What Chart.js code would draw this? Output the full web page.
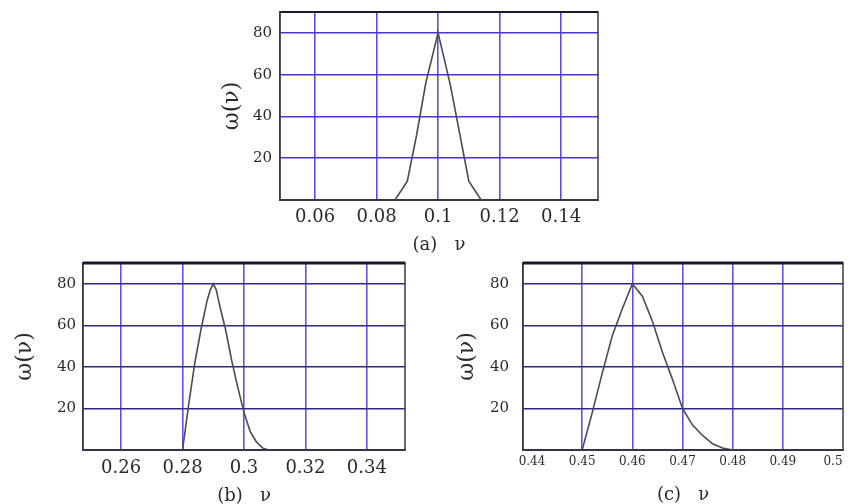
<!DOCTYPE html>
<html>
<head>
<meta charset="utf-8">
<script src="https://cdn.jsdelivr.net/npm/chart.js@4.4.0/dist/chart.umd.min.js"></script>
<style>
  body { margin: 0; background: #fff; }
  .panel { position: absolute; }
</style>
</head>
<body>
<div class="panel" style="left:220px;top:0;width:390px;height:253px"><canvas id="chartA"></canvas></div>
<div class="panel" style="left:13px;top:250px;width:400px;height:254px"><canvas id="chartB"></canvas></div>
<div class="panel" style="left:455px;top:250px;width:395px;height:254px"><canvas id="chartC"></canvas></div>
<script>
// panel (a)
const nuA = [0.086, 0.09, 0.093, 0.096, 0.1, 0.104, 0.107, 0.11, 0.114];
const omegaA = [0, 9, 31, 56, 80, 55, 32, 9, 0];
const xTicksA = [0.06, 0.08, 0.1, 0.12, 0.14];

// panel (b)
const nuB = [0.28, 0.282, 0.284, 0.286, 0.288, 0.289, 0.29, 0.291, 0.292, 0.294, 0.296, 0.298, 0.3, 0.302, 0.304, 0.306, 0.308];
const omegaB = [0, 22, 42, 58, 72, 77, 80, 77, 70, 58, 43, 30, 18, 9, 4, 1, 0];
const xTicksB = [0.26, 0.28, 0.3, 0.32, 0.34];

// panel (c)
const nuC = [0.45, 0.452, 0.454, 0.456, 0.458, 0.46, 0.462, 0.464, 0.466, 0.468, 0.47, 0.472, 0.474, 0.476, 0.478, 0.48];
const omegaC = [0, 18, 37, 55, 68, 80, 74, 62, 47, 34, 20, 12, 7, 3, 1, 0];
const xTicksC = [0.44, 0.45, 0.46, 0.47, 0.48, 0.49, 0.5];

const yTicks = [20, 40, 60, 80];

const frame = {
    id: "frame",
    afterDraw(chart, args, o) {
        const a = chart.chartArea, c = chart.ctx;
        c.save();
        c.strokeStyle = "#3a3a4a";
        c.lineWidth = 1.5;
        c.strokeRect(a.left, a.top, a.right - a.left, a.bottom - a.top);
        c.lineWidth = o.topWidth || 1.5;
        c.strokeStyle = "#1a1a2a";
        c.beginPath();
        c.moveTo(a.left, a.top);
        c.lineTo(a.right, a.top);
        c.stroke();
        c.restore();
    }
};

function noPad(s) {
    s.paddingTop = s.paddingBottom = s.paddingLeft = s.paddingRight = 0;
}

function makePanel(id, xs, ys, xTicks, p) {
    new Chart(document.getElementById(id), {
        type: "scatter",
        data: {
            datasets: [{
                data: xs.map((x, i) => ({ x: x, y: ys[i] })),
                showLine: true,
                borderColor: "#4a4a55",
                borderWidth: 1.6,
                pointRadius: 0,
                tension: 0
            }]
        },
        options: {
            responsive: true,
            maintainAspectRatio: false,
            animation: false,
            layout: { padding: { top: p.top, right: p.right, left: 0, bottom: 0 } },
            plugins: { legend: { display: false }, tooltip: { enabled: false }, frame: { topWidth: p.topWidth } },
            scales: {
                x: {
                    min: p.xMin, max: p.xMax,
                    afterBuildTicks: s => { s.ticks = xTicks.map(v => ({ value: v })); },
                    afterFit: s => { s.height = p.xh; noPad(s); },
                    grid: {
                        // ticks sitting on the frame get no grid line
                        color: ctx => (ctx.tick && (ctx.tick.value < p.xMin + 0.003 || ctx.tick.value > p.xMax - 0.003)) ? "rgba(0,0,0,0)" : p.vGrid,
                        lineWidth: 1.6, drawTicks: false
                    },
                    border: { color: "#2a2a3a", width: 2 },
                    ticks: {
                        padding: p.xPad, color: "#2a2a2a",
                        font: { family: "DejaVu Serif", size: p.xFont },
                        callback: v => String(v)
                    },
                    title: {
                        display: true, text: p.caption, color: "#2a2a2a",
                        font: { family: "DejaVu Serif", size: 18, lineHeight: 1 },
                        padding: { top: 0, bottom: p.capPad }
                    }
                },
                y: {
                    min: 0, max: 90,
                    afterBuildTicks: s => { s.ticks = yTicks.map(v => ({ value: v })); },
                    afterFit: s => { s.width = p.yw; noPad(s); },
                    grid: { color: p.hGrid, lineWidth: 1.6, drawTicks: false },
                    border: { color: "#3a3a4a", width: 1.5 },
                    ticks: {
                        padding: p.yPad, color: "#2a2a2a",
                        font: { family: "DejaVu Serif", size: 15 }
                    },
                    title: {
                        display: true, text: "ω(ν)", color: "#2a2a2a",
                        font: { family: "DejaVu Serif", size: 22, lineHeight: 1 },
                        padding: { top: 1, bottom: 0 }
                    }
                }
            }
        },
        plugins: [frame]
    });
}

makePanel("chartA", nuA, omegaA, xTicksA, {
    xMin: 0.0486, xMax: 0.152, top: 12, right: 12, yw: 60, xh: 53,
    xPad: 7, xFont: 18, yPad: 8, capPad: -1, caption: "(a)   ν",
    vGrid: "#5a4ee2", hGrid: "#4536d0", topWidth: 1.8
});
makePanel("chartB", nuB, omegaB, xTicksB, {
    xMin: 0.2476, xMax: 0.3524, top: 13, right: 8, yw: 70, xh: 54,
    xPad: 8, xFont: 18, yPad: 7, capPad: -1, caption: "(b)   ν",
    vGrid: "#5c52e8", hGrid: "#2e2a80", topWidth: 3
});
makePanel("chartC", nuC, omegaC, xTicksC, {
    xMin: 0.4382, xMax: 0.502, top: 13, right: 7, yw: 68, xh: 54,
    xPad: 5, xFont: 12, yPad: 14, capPad: 0, caption: "(c)   ν",
    vGrid: "#5c52e8", hGrid: "#2e2a80", topWidth: 3
});
</script>
</body>
</html>
